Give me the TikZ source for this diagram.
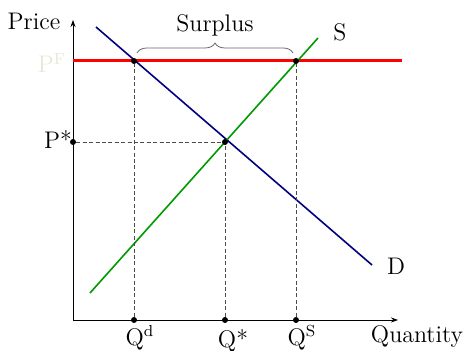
\documentclass[tikz,border=0pt]{standalone}
\usepackage{tikz}
\usetikzlibrary{arrows.meta,calc,decorations.pathreplacing}
\usetikzlibrary{positioning}
\definecolor{pfaded}{RGB}{232,232,216}
\begin{document}
\begin{tikzpicture}[x=0.5pt,y=0.5pt,>=Stealth,line join=round,font=\large,
  dot/.style={circle,fill=black,inner sep=0pt,minimum size=3pt},
  guide/.style={dash pattern=on 2pt off 1.2pt,line width=0.3pt,black!70},
  axis/.style={->,line width=0.4pt,>={Stealth[length=3.5pt,width=2.5pt]}}]
\useasboundingbox (-73,-31) rectangle (391,320);
% --- axes
\coordinate (o) at (0,0);
\coordinate (xend) at (325,0);
\coordinate (yend) at (0,300);
\draw[axis] (o) -- (xend);
\draw[axis] (o) -- (yend);
\node (price) at (-39,299) {Price};
\node (qty) at (344,-17) {Quantity};
% --- supply, demand, floor price
\coordinate (d0) at (23,293); \coordinate (d1) at (299,55);
\coordinate (s0) at (17,27); \coordinate (s1) at (245,282);
\coordinate (f0) at (0,259); \coordinate (f1) at (329,259);
\draw[red,line width=1.5pt] (f0) -- (f1);
\draw[thick,blue!50!black] (d0) -- (d1);
\draw[thick,green!60!black] (s0) -- (s1);
\node (slab) at (267,288) {S};
\node (dlab) at (323,54) {D};
% --- points
\node[dot] (eq) at (152,178) {};
\node[dot] (fd) at (61,259) {};
\node[dot] (fs) at (223,259) {};
\node[dot] (pstar) at (0,178) {};
\node[dot] (qd) at (61,0) {};
\node[dot] (qstar) at (152,0) {};
\node[dot] (qs) at (223,0) {};
\draw[guide] (qd) -- (fd);
\draw[guide] (qs) -- (fs);
\draw[guide] (qstar) -- (eq);
\draw[guide] (pstar) -- (eq);
% --- labels
\node (plab) at (-15,180) {P*};
\node[text=pfaded] (pflab) at (-21,257) {P$^{\mathrm{F}}$};
\node (qdlab) at (67,-18) {Q$^{\mathrm{d}}$};
\node (qstarlab) at (160,-21) {Q*};
\node (qslab) at (229,-18) {Q$^{\mathrm{S}}$};
% --- surplus brace
\draw[decorate,decoration={brace,amplitude=5pt},thin,gray!80!black] ($(fd)+(3,8)$) -- ($(fs)+(-3,8)$) node[midway,above=5pt,black] (surplus) {Surplus};
\end{tikzpicture}
\end{document}
